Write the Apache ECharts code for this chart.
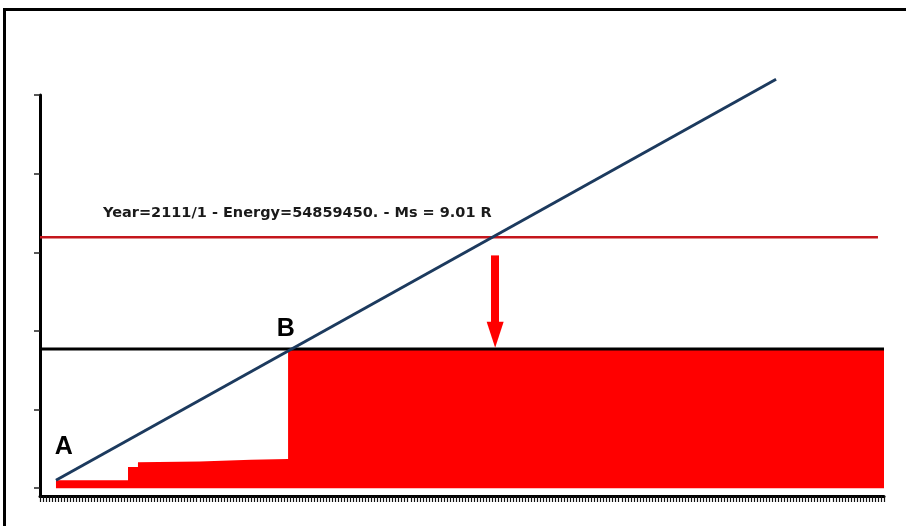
<!DOCTYPE html>
<html>
<head>
<meta charset="utf-8">
<script src="https://cdn.jsdelivr.net/npm/echarts@6/dist/echarts.min.js"></script>
<style>
  html, body { margin: 0; padding: 0; background: #ffffff; }
  #frame { position: absolute; left: 3px; top: 8px; width: 920px; height: 540px;
           border-left: 3px solid #000; border-top: 3px solid #000; }
  #chart { position: absolute; left: 0; top: 0; width: 906px; height: 526px; }
</style>
</head>
<body>
<div id="frame"></div>
<div id="chart"></div>
<script>
// ---- data (x: time units, y: energy units) ----
const yTickValues = [0, 1, 2, 3, 4, 5];
const energySteps = [[5.3, 0.10], [29.2, 0.10], [29.2, 0.27], [32.5, 0.27], [32.5, 0.33],
                     [53, 0.34], [70, 0.36], [82.3, 0.37], [82.3, 1.77], [280, 1.77]];
const growthLine = [[5.3, 0.10], [244.2, 5.20]];
const thresholdLine = [[0, 3.19], [278, 3.19]];
const levelLine = [[0, 1.77], [280, 1.77]];
const arrowFrom = [151, 2.96];
const arrowTo = [151, 1.95];
const infoText = 'Year=2111/1 - Energy=54859450. - Ms = 9.01 R';
const infoPos = [20.9, 3.50];
const labelA = ['A', 7.9, 0.52];
const labelB = ['B', 81.5, 2.02];

const chart = echarts.init(document.getElementById('chart'), null, { renderer: 'canvas' });
chart.setOption({
  backgroundColor: 'transparent',
  animation: false,
  grid: { left: 40, right: 22, top: 95, bottom: 30 },
  xAxis: {
    type: 'value', min: 0, max: 280, interval: 1,
    axisLine: { show: true, onZero: false, lineStyle: { color: '#000', width: 3 } },
    axisTick: { show: true, length: 6, lineStyle: { color: '#111', width: 1.2 } },
    axisLabel: { show: false },
    splitLine: { show: false }
  },
  yAxis: {
    type: 'value', min: -0.1, max: 5,
    axisLine: { show: true, onZero: false, lineStyle: { color: '#000', width: 3 } },
    axisTick: { show: true, length: 6, customValues: yTickValues, lineStyle: { color: '#222', width: 1.5 } },
    axisLabel: { show: false, customValues: yTickValues },
    splitLine: { show: false }
  },
  series: [
    {
      type: 'line', data: energySteps, symbol: 'none', z: 1,
      lineStyle: { width: 0, color: '#ff0000' },
      areaStyle: { color: '#ff0000', opacity: 1, origin: 0 }
    },
    {
      type: 'line', data: levelLine, symbol: 'none', z: 2,
      lineStyle: { width: 3, color: '#000' }
    },
    {
      type: 'line', data: thresholdLine, symbol: 'none', z: 3,
      lineStyle: { width: 2.5, color: '#c4161c' }
    },
    {
      type: 'line', data: growthLine, symbol: 'none', z: 4, clip: false,
      lineStyle: { width: 3, color: '#1c3a5e' }
    },
    {
      type: 'line', data: [], z: 5,
      markLine: {
        silent: true, animation: false,
        symbol: ['none', 'triangle'], symbolSize: [17, 26],
        lineStyle: { color: '#ff0000', width: 8, type: 'solid' },
        label: { show: false },
        data: [[{ coord: arrowFrom }, { coord: arrowTo }]]
      }
    },
    {
      type: 'scatter', symbolSize: 0, z: 6,
      itemStyle: { opacity: 1 },
      data: [
        { value: infoPos, label: { show: true, position: 'right', distance: 0, formatter: infoText,
          fontFamily: 'DejaVu Sans', fontWeight: 'bold', fontSize: 14.5, color: '#1a1a1a' } },
        { value: [labelA[1], labelA[2]], label: { show: true, position: 'inside', formatter: labelA[0],
          fontFamily: 'Liberation Sans', fontWeight: 'bold', fontSize: 25, color: '#000' } },
        { value: [labelB[1], labelB[2]], label: { show: true, position: 'inside', formatter: labelB[0],
          fontFamily: 'Liberation Sans', fontWeight: 'bold', fontSize: 25, color: '#000' } }
      ]
    }
  ]
});
</script>
</body>
</html>
